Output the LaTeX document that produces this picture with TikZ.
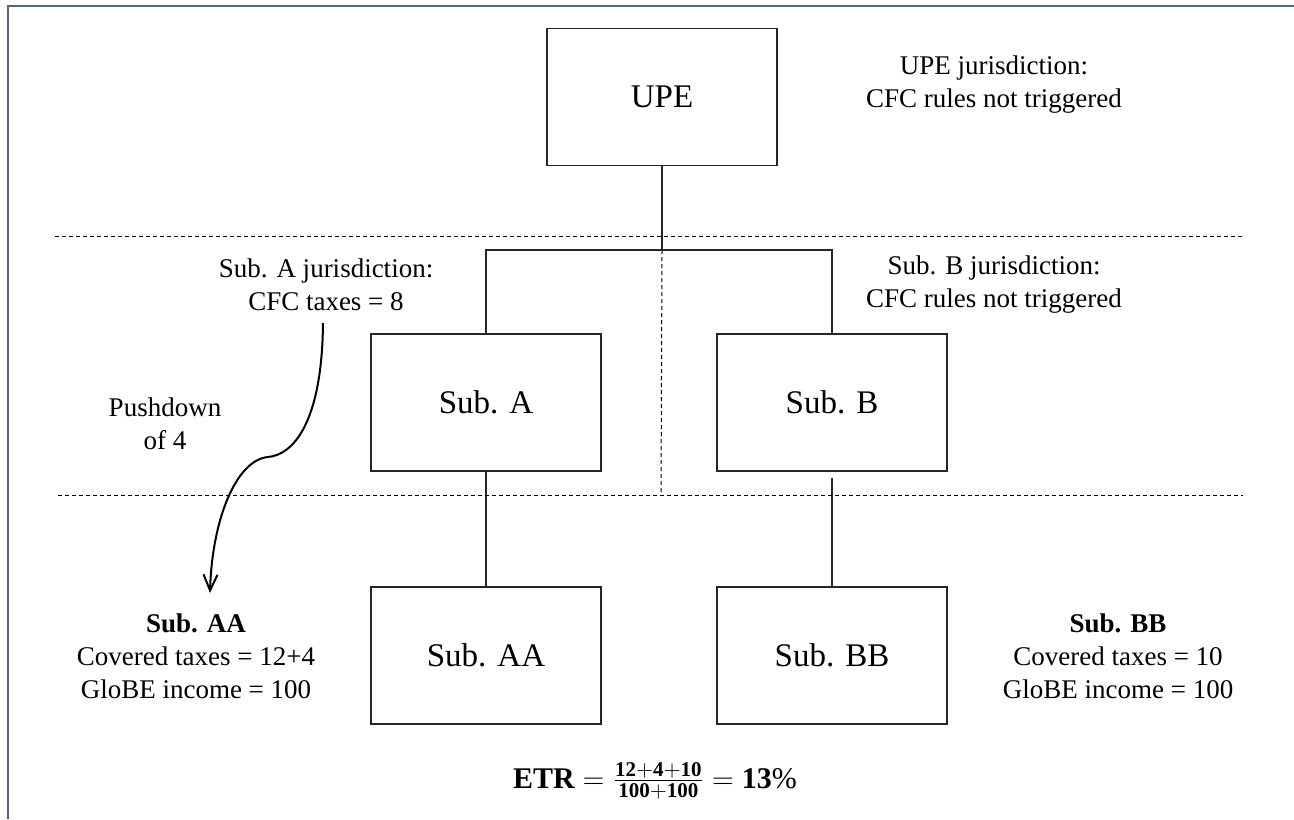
\documentclass[tikz,border=0pt]{standalone}
\usepackage{fontspec}
\setmainfont{Liberation Serif}
\usetikzlibrary{arrows.meta}
\definecolor{frameblue}{RGB}{84,101,130}
\begin{document}
\begin{tikzpicture}[x=0.5pt,y=-0.5pt,
   entity/.style={draw=black!85,line width=0.7pt,minimum width=115pt,minimum height=68.5pt,
      font=\fontsize{16.5}{19.8}\selectfont},
   note/.style={align=center,inner sep=0pt,font=\fontsize{13.5}{16.5}\selectfont},
   border/.style={dashed,dash pattern=on 2pt off 1.5pt,line width=0.5pt},
   link/.style={draw=black!85,line width=0.7pt}]
   \useasboundingbox (0,0) rectangle (1294,819);
   \draw[frameblue,line width=1.1pt] (8,819) -- (8,6) -- (1294,6);

   % the group
   \node[entity] (upe) at (662,97) {UPE};
   \node[entity] (subA) at (486,402.5) {Sub. A};
   \node[entity] (subB) at (832,402.5) {Sub. B};
   \node[entity] (subAA) at (486,655.5) {Sub. AA};
   \node[entity] (subBB) at (832,655.5) {Sub. BB};

   \coordinate (bus) at (662,250);
   \draw[link] (upe.south) -- (bus);
   \draw[link] (subA.north) |- (bus) -| (subB.north);
   \draw[link] (subA.south) -- (subAA.north);
   \draw[link,shorten <=3pt] (subB.south) -- (subBB.north);

   % jurisdictions
   \draw[border] (55,236) -- (1245,236);
   \draw[border] (58,495) -- (1243,495);
   \draw[border] (bus) -- (661,495);

   \node[note] (upejur) at (994,84.5) {UPE jurisdiction:\\CFC rules not triggered};
   \node[note] (subAjur) at (326,284.5) {Sub. A jurisdiction:\\CFC taxes = 8};
   \node[note] (subBjur) at (994,284.5) {Sub. B jurisdiction:\\CFC rules not triggered};
   \node[note] (push) at (165,424) {Pushdown\\of 4};

   \node[note] (subAAtxt) at (196,656) {\textbf{Sub. AA}\\Covered taxes = 12+4\\GloBE income = 100};
   \node[note] (subBBtxt) at (1118,656) {\textbf{Sub. BB}\\Covered taxes = 10\\GloBE income = 100};

   % pushdown arrow
   \coordinate (pushtop) at (323,323);
   \coordinate (kink) at (268,457);
   \coordinate (pushend) at (210,593);
   \draw[line width=1pt,-{Straight Barb[length=8pt,width=7pt]}]
      (pushtop) .. controls (322,425) and (292,455) .. (kink)
      .. controls (236,460) and (212,520) .. (pushend);

   \node[note,anchor=base,font=\fontsize{15}{18}\selectfont] (etr) at (655,788)
      {$\mathbf{ETR}\mathrel{=}\frac{\mathbf{12{+}4{+}10}}{\mathbf{100{+}100}}\mathrel{=}\mathbf{13}\%$};
\end{tikzpicture}
\end{document}
